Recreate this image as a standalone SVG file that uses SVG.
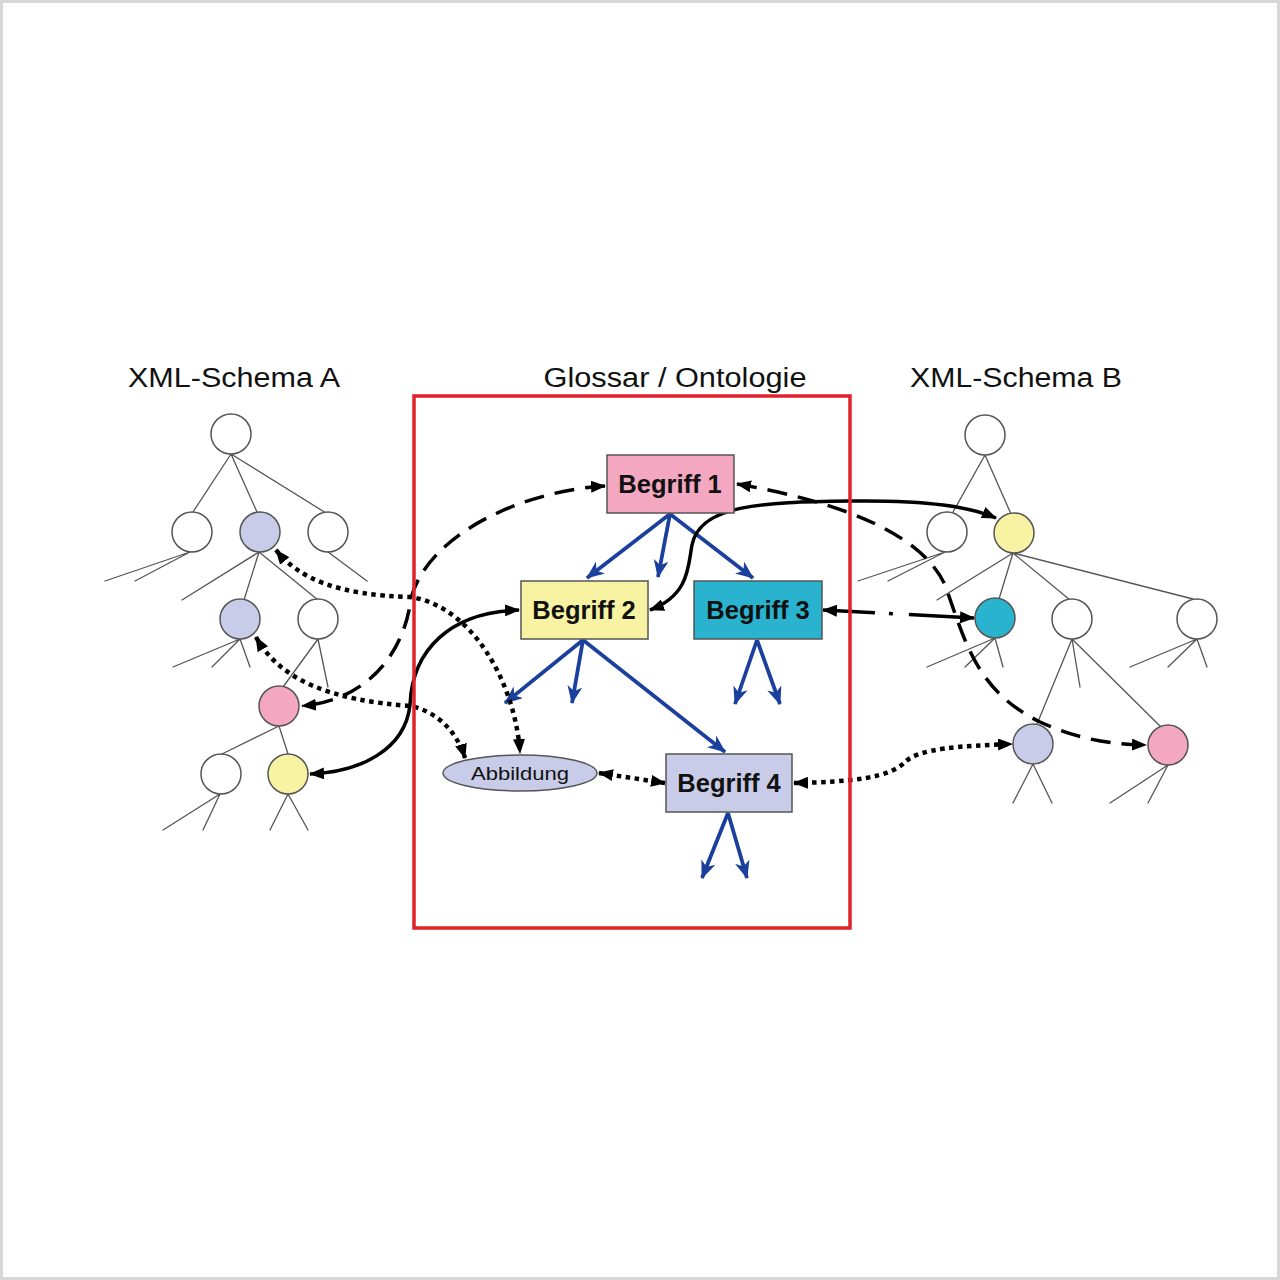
<svg xmlns="http://www.w3.org/2000/svg" width="1280" height="1280" viewBox="0 0 1280 1280">
<defs>
<style>
.tl{stroke:#555;stroke-width:1.3;fill:none;stroke-linecap:round}
.nd{stroke:#555;stroke-width:1.5}
.w{fill:#fff}.pk{fill:#F4A7C0}.ye{fill:#F7F3A2}.bl{fill:#C9CCE8}.cy{fill:#2AB3CE}
.blue{stroke:#1B3F9C;stroke-width:3.8;fill:none;marker-end:url(#ab)}
.con{stroke:#000;stroke-width:3.5;fill:none;marker-start:url(#ak);marker-end:url(#ak)}
.dash{stroke-dasharray:20 11}
.dot{stroke-dasharray:4.5 4.5;stroke-width:4.5}
.dd{stroke-dasharray:52 14 4 16 80}
.box{stroke:#555;stroke-width:1.5}
.bt{font-family:"Liberation Sans",Arial,sans-serif;font-weight:bold;font-size:25.5px;fill:#111;text-anchor:middle}
.tt{font-family:"Liberation Sans",Arial,sans-serif;font-size:27px;fill:#111;text-anchor:middle}
</style>
<marker id="ab" viewBox="0 0 18 15" refX="17" refY="7.5" markerWidth="18" markerHeight="15" markerUnits="userSpaceOnUse" orient="auto">
<path d="M0,0 L18,7.5 L0,15 L5,7.5 z" fill="#1B3F9C"/>
</marker>
<marker id="ak" viewBox="0 0 15 12" refX="14" refY="6" markerWidth="15" markerHeight="12" markerUnits="userSpaceOnUse" orient="auto-start-reverse">
<path d="M0,0 L15,6 L0,12 z" fill="#000"/>
</marker>
</defs>
<rect x="1.5" y="1.5" width="1277" height="1277" fill="#fff" stroke="#d6d6d6" stroke-width="3"/>

<g id="titles">
<text class="tt" x="234" y="387" textLength="212" lengthAdjust="spacingAndGlyphs">XML-Schema A</text>
<text class="tt" x="675" y="387" textLength="263" lengthAdjust="spacingAndGlyphs">Glossar / Ontologie</text>
<text class="tt" x="1016" y="387" textLength="212" lengthAdjust="spacingAndGlyphs">XML-Schema B</text>
</g>

<g id="tree-edges">
<path class="tl" d="M231,454L193,512M231,454L257,512M231,454L326,513
M190,552L105,581M190,552L135,581M328,552L367,581
M259,552L182,600M259,552L244,600M259,552L318,600
M240,639L173,667M240,639L212,667M240,639L250,667
M318,639L283,687M318,639L328,687
M279,726L222,754M279,726L288,754
M220,794L163,830M220,794L203,830
M288,794L270,830M288,794L308,830"/>
<path class="tl" d="M985,455L953,512M985,455L1011,514
M945,552L858,581M945,552L888,581
M1013,553L937,600M1013,553L999,599M1013,553L1070,600M1013,553L1193,599
M995,638L927,667M995,638L965,667M995,638L1003,667
M1072,639L1037,724M1072,639L1080,687M1072,639L1160,726
M1197,639L1130,667M1197,639L1168,667M1197,639L1207,667
M1033,764L1013,803M1033,764L1052,803
M1168,765L1110,803M1168,765L1148,803"/>
</g>

<g id="schemaA">
<g id="a-root"><circle class="nd w" cx="231" cy="434" r="20"/></g>
<g id="a-l2a"><circle class="nd w" cx="192" cy="532" r="20"/></g>
<g id="a-l2b"><circle class="nd bl" cx="260" cy="532" r="20"/></g>
<g id="a-l2c"><circle class="nd w" cx="328" cy="532" r="20"/></g>
<g id="a-l3a"><circle class="nd bl" cx="240" cy="619" r="20"/></g>
<g id="a-l3b"><circle class="nd w" cx="318" cy="619" r="20"/></g>
<g id="a-pink"><circle class="nd pk" cx="279" cy="706" r="20"/></g>
<g id="a-l5a"><circle class="nd w" cx="221" cy="774" r="20"/></g>
<g id="a-yellow"><circle class="nd ye" cx="288" cy="774" r="20"/></g>
</g>

<g id="schemaB">
<g id="b-root"><circle class="nd w" cx="985" cy="435" r="20"/></g>
<g id="b-l2a"><circle class="nd w" cx="947" cy="532" r="20"/></g>
<g id="b-yellow"><circle class="nd ye" cx="1014" cy="533" r="20"/></g>
<g id="b-cyan"><circle class="nd cy" cx="995" cy="618" r="20"/></g>
<g id="b-l3b"><circle class="nd w" cx="1072" cy="619" r="20"/></g>
<g id="b-l3c"><circle class="nd w" cx="1197" cy="619" r="20"/></g>
<g id="b-blue"><circle class="nd bl" cx="1033" cy="744" r="20"/></g>
<g id="b-pink"><circle class="nd pk" cx="1168" cy="745" r="20"/></g>
</g>

<g id="connectors">
<path class="blue" d="M670,514L587,578"/>
<path class="blue" d="M670,514L658,577"/>
<path class="blue" d="M670,514L753,578"/>
<path class="blue" d="M583,640L505,703"/>
<path class="blue" d="M583,640L572,703"/>
<path class="blue" d="M583,640L725,752"/>
<path class="blue" d="M757,640L735,704"/>
<path class="blue" d="M757,640L780,704"/>
<path class="blue" d="M728,813L702,878"/>
<path class="blue" d="M728,813L747,878"/>

<path class="con dash" d="M605,486C530,490 430,530 411,598C405,650 370,700 302,706"/>
<path class="con dash" d="M737,484C830,500 920,530 945,585C965,640 975,690 1040,722C1080,740 1110,744 1146,745"/>
<path class="con" d="M650,610C690,595 688,565 692,545C700,505 760,502 850,501C930,500 970,507 996,518"/>
<path class="con" d="M519,610C450,612 412,650 410,705C405,750 360,772 310,774"/>
<path class="con dot" d="M276,550C300,580 340,595 410,597C470,605 515,680 520,753"/>
<path class="con dot" d="M256,637C280,680 330,700 410,706C440,712 458,735 465,758"/>
<path class="con dot" d="M599,773L665,783"/>
<path class="con dot" d="M794,783C850,782 890,778 905,762C920,748 960,746 1012,744"/>
<path class="con dd" d="M823,610L974,618"/>
</g>

<g id="begriff1"><rect class="box pk" x="607" y="455" width="127" height="58"/><text class="bt" x="670" y="493">Begriff 1</text></g>
<g id="begriff2"><rect class="box ye" x="521" y="581" width="127" height="58"/><text class="bt" x="584" y="619">Begriff 2</text></g>
<g id="begriff3"><rect class="box cy" x="694" y="581" width="128" height="58"/><text class="bt" x="758" y="619">Begriff 3</text></g>
<g id="begriff4"><rect class="box bl" x="666" y="754" width="126" height="58"/><text class="bt" x="729" y="792">Begriff 4</text></g>
<g id="abbildung"><ellipse class="box bl" cx="520" cy="773" rx="77" ry="18"/><text x="520" y="780" font-family="Liberation Sans, Arial, sans-serif" font-size="19" fill="#111" text-anchor="middle" textLength="98" lengthAdjust="spacingAndGlyphs">Abbildung</text></g>

<g id="frame"><rect x="414" y="396" width="436" height="532" fill="none" stroke="#E2222B" stroke-width="3.5"/></g>
</svg>
